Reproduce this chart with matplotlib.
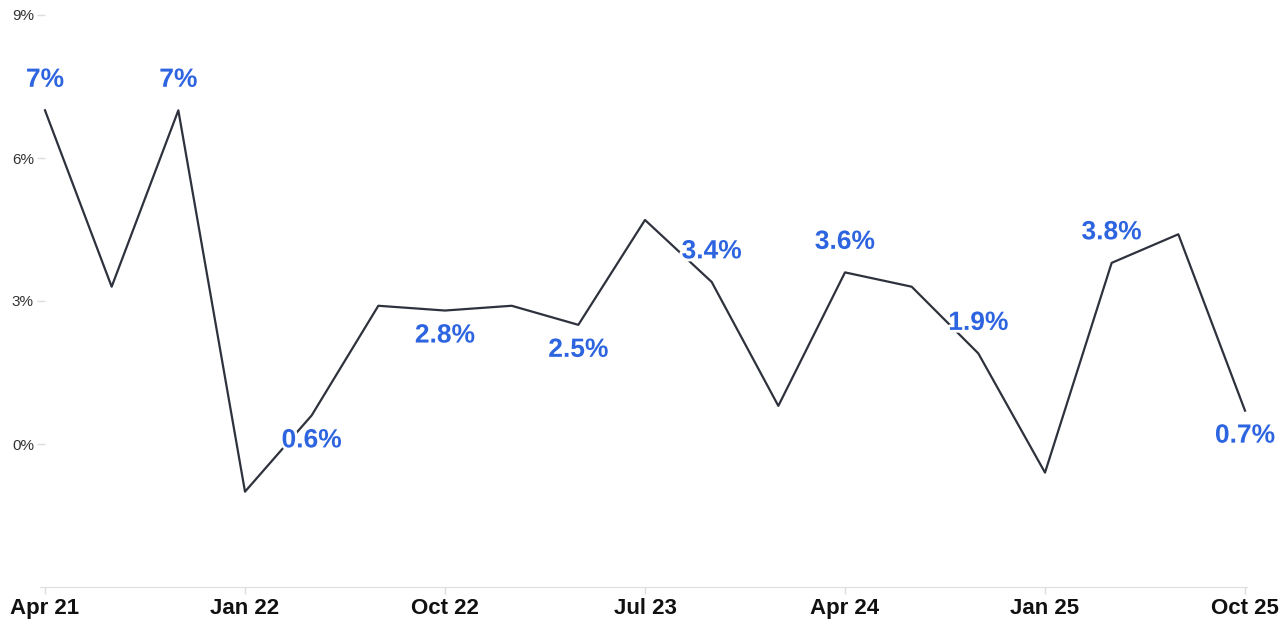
import matplotlib.pyplot as plt
import matplotlib.patheffects as pe

plt.rcParams['font.family'] = ['Liberation Sans', 'DejaVu Sans']

# Quarterly growth, Apr 21 .. Oct 25
quarters = ['Apr 21', 'Jul 21', 'Oct 21', 'Jan 22', 'Apr 22', 'Jul 22', 'Oct 22',
            'Jan 23', 'Apr 23', 'Jul 23', 'Oct 23', 'Jan 24', 'Apr 24', 'Jul 24',
            'Oct 24', 'Jan 25', 'Apr 25', 'Jul 25', 'Oct 25']
growth = [7.0, 3.3, 7.0, -1.0, 0.6, 2.9, 2.8, 2.9, 2.5, 4.7, 3.4, 0.8, 3.6, 3.3,
          1.9, -0.6, 3.8, 4.4, 0.7]
y_ticks = [0, 3, 6, 9]

# every second quarter gets a value label; 'b' = under the line
label_idx = [0, 2, 4, 6, 8, 10, 12, 14, 16, 18]
label_side = ['t', 't', 'b', 'b', 'b', 't', 't', 't', 't', 'b']

fig = plt.figure(figsize=(12.83, 6.2), dpi=100)
ax = fig.add_axes([45 / 1283, 33 / 620, 1200 / 1283, 572 / 620])

x = list(range(len(quarters)))
ax.plot(x, growth, color='#2e323d', linewidth=1.6, clip_on=False, zorder=2)

def fmt(v):
    s = f'{v:.1f}'
    if s.endswith('.0'):
        s = s[:-2]
    return s + '%'

for i, side in zip(label_idx, label_side):
    dy = 22 if side == 't' else -18
    ax.annotate(fmt(growth[i]), (x[i], growth[i]), xytext=(0, dy),
                textcoords='offset points', ha='center', va='center',
                fontsize=19, fontweight='bold', color='#2d64e0', zorder=3,
                path_effects=[pe.withStroke(linewidth=4, foreground='white')])

ax.set_xlim(0, len(quarters) - 1)
ax.set_ylim(-3, 9)

ax.set_xticks(x[::3])
ax.set_xticklabels(quarters[::3], fontsize=16, fontweight='bold', color='#111111')
ax.set_yticks(y_ticks)
ax.set_yticklabels([f'{t}%' for t in y_ticks], fontsize=11, color='#333333')

ax.tick_params(axis='x', length=5, width=1, color='#dddddd', pad=3)
ax.tick_params(axis='y', length=6, width=1, color='#dddddd', pad=2)

for s in ['top', 'right', 'left']:
    ax.spines[s].set_visible(False)
ax.spines['bottom'].set_color('#dddddd')
ax.spines['bottom'].set_bounds(-0.08, len(quarters) - 1 + 0.03)

plt.savefig('out.png', dpi=100)
